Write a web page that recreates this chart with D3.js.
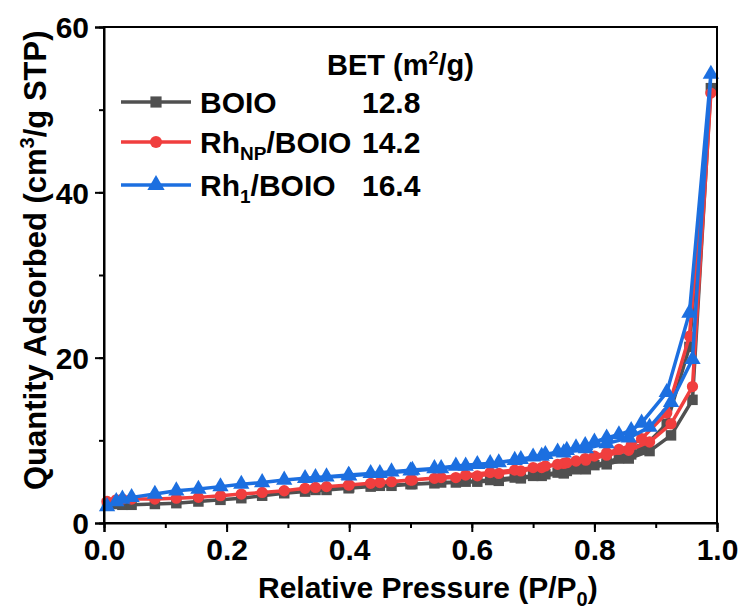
<!DOCTYPE html>
<html>
<head>
<meta charset="utf-8">
<script src="https://cdn.jsdelivr.net/npm/d3@7"></script>
<style>
  body { margin: 0; background: #fff; }
  text { font-family: "Liberation Sans", Arial, sans-serif; font-weight: bold; fill: #000; }
</style>
</head>
<body>
<svg id="chart" width="743" height="614"></svg>
<script>
// relative pressure points, adsorption branch (up) and desorption branch (down)
var adsP = [0.005, 0.02, 0.03, 0.045, 0.083, 0.118, 0.154, 0.19, 0.224, 0.258, 0.294, 0.328, 0.363, 0.399,
    0.435, 0.469, 0.503, 0.539, 0.574, 0.609, 0.644, 0.68, 0.714, 0.75, 0.786, 0.82, 0.856, 0.89, 0.925, 0.96, 0.99];
var desP = [0.955, 0.918, 0.877, 0.86, 0.84, 0.82, 0.80, 0.785, 0.77, 0.755, 0.74, 0.72, 0.70, 0.67, 0.63,
    0.59, 0.55, 0.50, 0.45, 0.40, 0.345];

// quantity adsorbed (cm3/g STP)
var boioAds = [2.3, 2.3, 2.2, 2.2, 2.3, 2.4, 2.6, 2.8, 3.0, 3.3, 3.6, 3.8, 4.0, 4.2, 4.4, 4.5, 4.7, 4.8, 4.9,
    5.0, 5.1, 5.4, 5.7, 6.0, 6.5, 7.1, 7.8, 8.7, 10.6, 14.9, 52.6];
var boioDes = [21.3, 12.0, 8.9, 8.3, 7.8, 7.4, 7.0, 6.7, 6.5, 6.3, 6.1, 5.9, 5.7, 5.5, 5.2, 5.0, 4.9, 4.7,
    4.5, 4.3, 4.0];
var rhnpAds = [2.6, 2.8, 2.9, 2.9, 2.9, 3.0, 3.1, 3.3, 3.5, 3.7, 3.9, 4.2, 4.4, 4.6, 4.8, 5.0, 5.2, 5.4, 5.5,
    5.7, 6.0, 6.3, 6.7, 7.2, 7.6, 8.2, 8.8, 9.8, 12.0, 16.5, 52.0];
var rhnpDes = [22.6, 13.3, 10.2, 9.4, 8.9, 8.5, 8.1, 7.8, 7.5, 7.3, 7.1, 6.9, 6.7, 6.4, 6.1, 5.8, 5.5, 5.2,
    4.9, 4.6, 4.3];
var rh1Ads = [2.0, 2.6, 2.9, 3.1, 3.5, 3.9, 4.1, 4.4, 4.7, 4.9, 5.2, 5.4, 5.6, 5.8, 6.0, 6.2, 6.4, 6.6, 6.9,
    7.1, 7.3, 7.7, 8.1, 8.5, 9.0, 9.6, 10.3, 11.6, 14.6, 19.8, 54.3];
var rh1Des = [25.4, 15.8, 12.1, 11.2, 10.7, 10.3, 9.8, 9.4, 9.1, 8.8, 8.6, 8.3, 8.0, 7.6, 7.2, 6.9, 6.6,
    6.3, 6.0, 5.7, 5.5];

// legend: name, subscript, suffix, BET surface area
var names = ["BOIO", "Rh", "Rh"];
var subs = ["", "NP", "1"];
var suffix = ["", "/BOIO", "/BOIO"];
var betValues = ["12.8", "14.2", "16.4"];
var colors = ["#505050", "#f03e3e", "#1c6fe0"];
var symbols = [d3.symbolSquare, d3.symbolCircle, d3.symbolTriangle];

var xTicks = [0, 0.2, 0.4, 0.6, 0.8, 1.0];
var yTicks = [0, 20, 40, 60];

var svg = d3.select("#chart");
var plotLeft = 104, plotRight = 717, plotTop = 27, plotBottom = 523;

var x = d3.scaleLinear().domain([0, 1]).range([plotLeft, plotRight]);
var y = d3.scaleLinear().domain([0, 60]).range([plotBottom, plotTop]);

//build point lists for each sample (adsorption then desorption)
var series = [[boioAds, boioDes], [rhnpAds, rhnpDes], [rh1Ads, rh1Des]].map(function(s) {
    var pts = adsP.map(function(p, i) { return [p, s[0][i]]; });
    return pts.concat(desP.map(function(p, i) { return [p, s[1][i]]; }));
});

var line = d3.line()
    .x(d => x(d[0]))
    .y(d => y(d[1]));

var symSizes = [110, 100, 115];

//draw lines and markers
series.forEach(function(pts, k) {
    svg.append("path")
        .datum(pts)
        .attr("d", line)
        .attr("fill", "none")
        .attr("stroke", colors[k])
        .attr("stroke-width", 3.5)
        .attr("stroke-linejoin", "round");

    svg.selectAll(".m" + k)
        .data(pts)
        .enter().append("path")
        .attr("class", "m" + k)
        .attr("d", d3.symbol().type(symbols[k]).size(symSizes[k]))
        .attr("transform", d => "translate(" + x(d[0]) + "," + y(d[1]) + ")")
        .attr("fill", colors[k]);
});

//frame
svg.append("rect")
    .attr("x", plotLeft)
    .attr("y", plotTop)
    .attr("width", plotRight - plotLeft)
    .attr("height", plotBottom - plotTop)
    .style("fill", "none")
    .style("stroke", "black")
    .style("stroke-width", 2);

//x axis with minor ticks
svg.append("g")
    .attr("transform", "translate(0," + plotBottom + ")")
    .call(d3.axisBottom(x).tickValues(d3.range(0, 1.01, 0.1)).tickSize(5).tickFormat(""))
    .call(g => g.select(".domain").remove())
    .selectAll("line").attr("stroke-width", 2);

svg.append("g")
    .attr("transform", "translate(0," + plotBottom + ")")
    .call(d3.axisBottom(x).tickValues(xTicks).tickSize(9).tickPadding(5).tickFormat(d3.format(".1f")))
    .call(g => g.select(".domain").attr("stroke-width", 2))
    .call(g => g.selectAll("line").attr("stroke-width", 2))
    .call(g => g.selectAll("text").style("font-size", "30px").attr("dy", "0.75em"));

//y axis with minor ticks
svg.append("g")
    .attr("transform", "translate(" + plotLeft + ",0)")
    .call(d3.axisLeft(y).tickValues(d3.range(0, 61, 10)).tickSize(5).tickFormat(""))
    .call(g => g.select(".domain").remove())
    .selectAll("line").attr("stroke-width", 2);

svg.append("g")
    .attr("transform", "translate(" + plotLeft + ",0)")
    .call(d3.axisLeft(y).tickValues(yTicks).tickSize(9).tickPadding(6))
    .call(g => g.select(".domain").attr("stroke-width", 2))
    .call(g => g.selectAll("line").attr("stroke-width", 2))
    .call(g => g.selectAll("text").style("font-size", "30px").attr("dy", "0.36em"));

//axis titles
var xt = svg.append("text")
    .attr("x", 258)
    .attr("y", 598)
    .style("font-size", "30px");
xt.append("tspan").text("Relative Pressure (P/P");
xt.append("tspan").text("0").style("font-size", "20px").attr("dy", 8);
xt.append("tspan").text(")").attr("dy", -8);

var yt = svg.append("text")
    .attr("transform", "translate(46,490) rotate(-90)")
    .style("font-size", "31px");
yt.append("tspan").text("Quantity Adsorbed (cm");
yt.append("tspan").text("3").style("font-size", "20px").attr("dy", -12);
yt.append("tspan").text("/g STP)").attr("dy", 12);

//legend
var bet = svg.append("text")
    .attr("x", 327)
    .attr("y", 75)
    .style("font-size", "29px");
bet.append("tspan").text("BET (m");
bet.append("tspan").text("2").style("font-size", "18px").attr("dy", -11);
bet.append("tspan").text("/g)").attr("dy", 11);

var rowY = [102, 142, 185];
names.forEach(function(n, k) {
    svg.append("line")
        .attr("x1", 121).attr("x2", 191)
        .attr("y1", rowY[k]).attr("y2", rowY[k])
        .attr("stroke", colors[k])
        .attr("stroke-width", 3.5);
    svg.append("path")
        .attr("d", d3.symbol().type(symbols[k]).size(symSizes[k] + 15))
        .attr("transform", "translate(156," + rowY[k] + ")")
        .attr("fill", colors[k]);

    var t = svg.append("text")
        .attr("x", 200)
        .attr("y", rowY[k] + 11)
        .style("font-size", "30px");
    t.append("tspan").text(n);
    if (subs[k]) {
        t.append("tspan").text(subs[k]).style("font-size", "19px").attr("dy", 7);
        t.append("tspan").text(suffix[k]).attr("dy", -7);
    }
    svg.append("text")
        .attr("x", 362)
        .attr("y", rowY[k] + 11)
        .style("font-size", "30px")
        .text(betValues[k]);
});
</script>
</body>
</html>
